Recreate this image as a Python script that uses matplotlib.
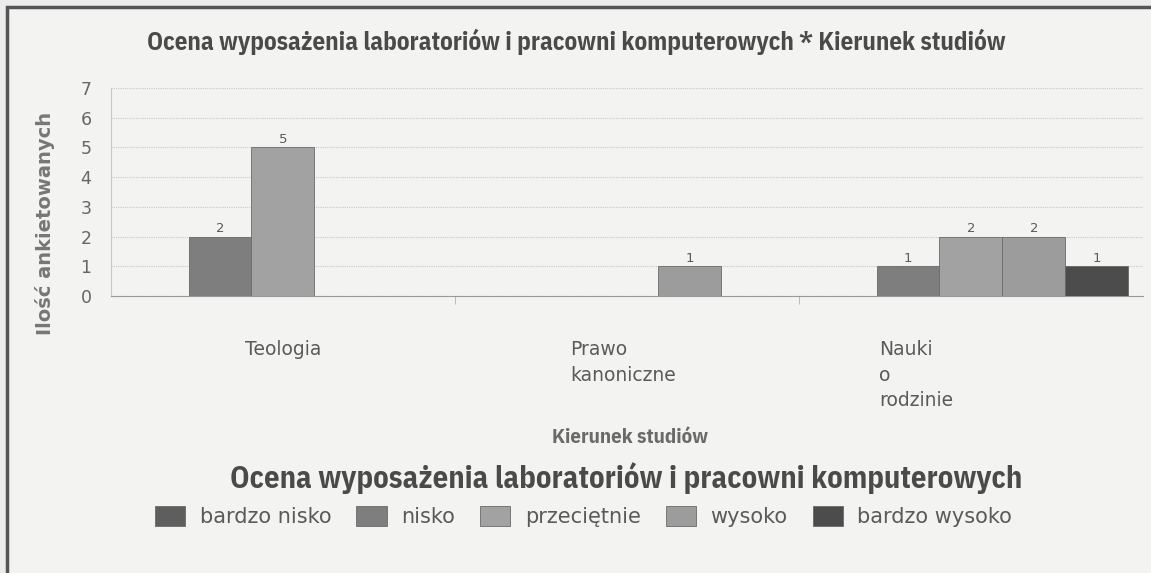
import numpy as np
import matplotlib
matplotlib.use('Agg')
import matplotlib.pyplot as plt
import matplotlib.transforms as mtransforms
from matplotlib.patches import Rectangle

# dane
categories = ['Teologia', 'Prawo\nkanoniczne', 'Nauki\no\nrodzinie']
series = ['bardzo nisko', 'nisko', 'przeciętnie', 'wysoko', 'bardzo wysoko']
bardzo_nisko = [0, 0, 0]
nisko = [2, 0, 1]
przecietnie = [5, 0, 2]
wysoko = [0, 1, 2]
bardzo_wysoko = [0, 0, 1]
values = [bardzo_nisko, nisko, przecietnie, wysoko, bardzo_wysoko]

COLORS = ['#5e5e5e', '#7e7e7e', '#a2a2a2', '#9c9c9c', '#4c4c4c']
TEXT_GRAY = '#5a5a5a'
NARROW = ['IBM Plex Sans Condensed', 'Liberation Sans', 'DejaVu Sans']

fig = plt.figure(figsize=(11.51, 5.73), dpi=100, facecolor='#ececec')
# ramka wokol calego wykresu
fig.patches.append(Rectangle((7 / 1151, -0.05), 1.0, 1.05 - 7 / 573, transform=fig.transFigure,
                             facecolor='#f3f3f1', edgecolor='#555555', linewidth=2.5, zorder=-10))

ax = fig.add_axes([0.0964, 0.4834, 0.8966, 0.363])
ax.set_facecolor('#f3f3f1')

x = np.arange(len(categories))
bar_w = 0.183
for i, (name, vals) in enumerate(zip(series, values)):
    pos = x + (i - 2) * bar_w
    bars = ax.bar(pos, vals, width=bar_w, color=COLORS[i], edgecolor='#6a6a6a', linewidth=0.6,
                  label=name, zorder=3)
    for b, v in zip(bars, vals):
        if v > 0:
            ax.text(b.get_x() + b.get_width() / 2, v + 0.05, str(v), ha='center', va='bottom',
                    fontsize=9.5, color=TEXT_GRAY, family='DejaVu Sans')

ax.set_xlim(-0.5, 2.5)
ax.set_ylim(0, 7)
ax.set_yticks(range(0, 8))
ax.yaxis.grid(True, linestyle=(0, (1, 1)), color='#c8c8c8', linewidth=0.8, zorder=0)
for s in ['top', 'right']:
    ax.spines[s].set_visible(False)
ax.spines['left'].set_color('#c8c8c8')
ax.spines['bottom'].set_color('#9a9a9a')
ax.axvline(2.5, color='#c8c8c8', linestyle=(0, (1, 1)), linewidth=0.8)
ax.tick_params(axis='y', length=0, labelsize=12.5, labelcolor='#666666', pad=14)

# separatory kategorii
ax.set_xticks([0.5, 1.5], minor=True)
ax.tick_params(axis='x', which='minor', length=6, color='#b0b0b0', direction='out')
ax.set_xticks(x)
ax.set_xticklabels(categories, multialignment='left', fontsize=13.5, color=TEXT_GRAY,
                   va='top', linespacing=1.42)
ax.tick_params(axis='x', which='major', length=0, pad=32)
lbls = ax.get_xticklabels()
lbls[1].set_transform(lbls[1].get_transform() +
                      mtransforms.ScaledTranslation(-0.04, 0, fig.dpi_scale_trans))
lbls[2].set_transform(lbls[2].get_transform() +
                      mtransforms.ScaledTranslation(-0.55, 0, fig.dpi_scale_trans))

fig.text(0.501, 0.927, 'Ocena wyposażenia laboratoriów i pracowni komputerowych * Kierunek studiów',
         ha='center', va='center', fontsize=18, fontweight='bold', color='#4a4a4a',
         family=NARROW)
fig.text(0.039, 0.61, 'Ilość ankietowanych', rotation=90, ha='center', va='center',
         fontsize=14, fontweight='bold', color='#777777')
fig.text(0.547, 0.237, 'Kierunek studiów', ha='center', va='center', fontsize=15,
         fontweight='bold', color='#6a6a6a', family=NARROW)
fig.text(0.544, 0.165, 'Ocena wyposażenia laboratoriów i pracowni komputerowych',
         ha='center', va='center', fontsize=22, fontweight='bold', color='#4a4a4a',
         family=NARROW)

leg = fig.legend(loc='center', bbox_to_anchor=(0.507, 0.099), ncol=5, frameon=False,
                 fontsize=15, handlelength=1.45, handleheight=1.1, columnspacing=1.2,
                 handletextpad=0.7)
for t in leg.get_texts():
    t.set_color(TEXT_GRAY)

fig.savefig('out.png', dpi=100, facecolor=fig.get_facecolor())
